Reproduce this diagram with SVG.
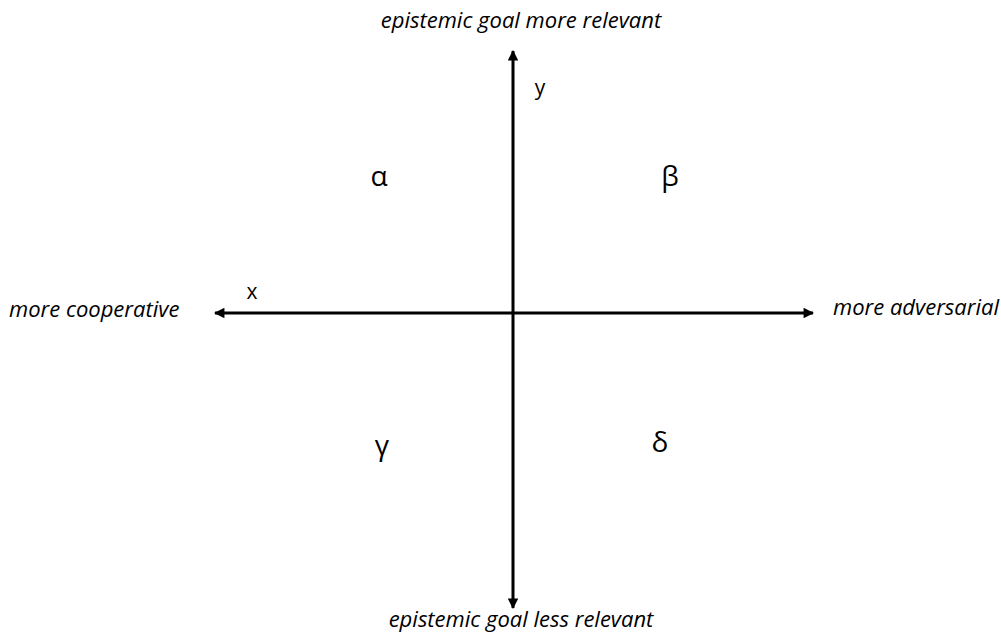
<svg xmlns="http://www.w3.org/2000/svg" width="1001" height="636" viewBox="0 0 1001 636">
<style>
.lbl{font-family:"Open Sans","Liberation Sans",sans-serif;font-style:italic;font-size:22px;fill:#000}
.var{font-family:"Open Sans","Liberation Sans",sans-serif;font-size:21px;fill:#000}
.greek{font-family:"Open Sans","DejaVu Sans",sans-serif;font-size:28px;fill:#000;text-anchor:middle}
.axis{stroke:#000;stroke-width:3;fill:none}
</style>
<defs>
<marker id="arr" viewBox="0 0 10 10" refX="9" refY="5" markerWidth="3.7" markerHeight="3.5" orient="auto-start-reverse" markerUnits="strokeWidth">
<path d="M0,0 L10,5 L0,10 z" fill="#000"/>
</marker>
</defs>
<rect width="1001" height="636" fill="#fff"/>
<g id="connectors">
<line class="axis" x1="513" y1="608" x2="513" y2="51" marker-start="url(#arr)" marker-end="url(#arr)"/>
<line class="axis" x1="215" y1="313" x2="813" y2="313" marker-start="url(#arr)" marker-end="url(#arr)"/>
</g>
<g id="top-label"><text class="lbl" x="521" y="28" text-anchor="middle">epistemic goal more relevant</text></g>
<g id="bottom-label"><text class="lbl" x="521" y="627" text-anchor="middle">epistemic goal less relevant</text></g>
<g id="left-label"><text class="lbl" x="9" y="317">more cooperative</text></g>
<g id="right-label"><text class="lbl" x="833" y="315">more adversarial</text></g>
<g id="x-label"><text class="var" x="252" y="299" text-anchor="middle">x</text></g>
<g id="y-label"><text class="var" x="540" y="95" text-anchor="middle">y</text></g>
<g id="alpha"><text class="greek" x="379" y="186">α</text></g>
<g id="beta"><text class="greek" x="670" y="186">β</text></g>
<g id="gamma"><text class="greek" x="382" y="455">γ</text></g>
<g id="delta"><text class="greek" x="660" y="452">δ</text></g>
</svg>
